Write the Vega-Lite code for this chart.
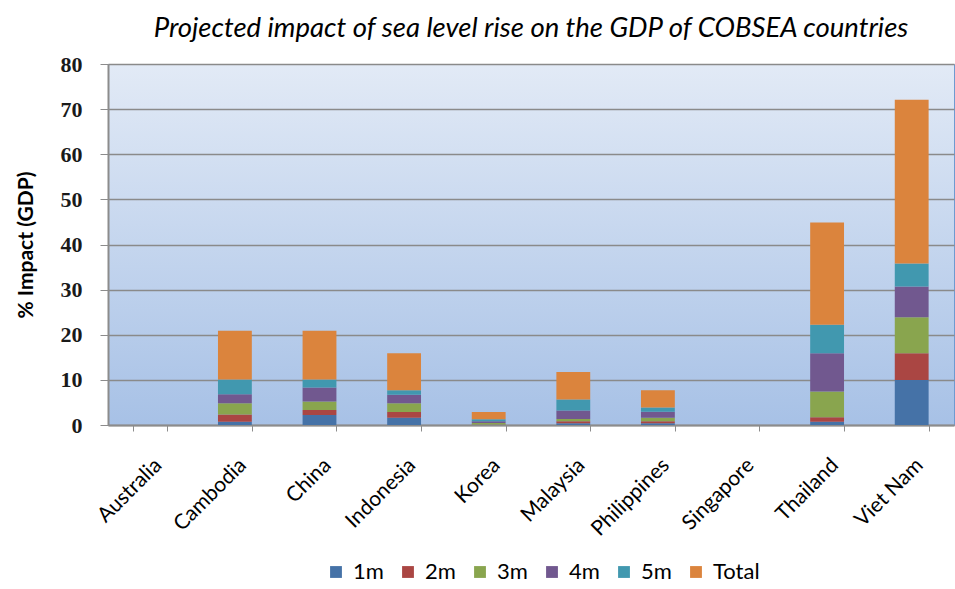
{
  "$schema": "https://vega.github.io/schema/vega-lite/v6.json",
  "autosize": {"type": "none"},
  "width": 846,
  "height": 361,
  "padding": {"left": 108, "top": 64, "right": 1, "bottom": 164},
  "background": "#ffffff",
  "title": {
    "text": "Projected impact of sea level rise on the GDP of COBSEA countries",
    "font": "Lato",
    "fontStyle": "italic",
    "fontWeight": "normal",
    "fontSize": 27.5,
    "color": "#000000",
    "anchor": "middle",
    "offset": 11
  },
  "data": {
    "values": [
      {"country": "Australia", "level": "1m", "value": 0},
      {"country": "Australia", "level": "2m", "value": 0},
      {"country": "Australia", "level": "3m", "value": 0},
      {"country": "Australia", "level": "4m", "value": 0},
      {"country": "Australia", "level": "5m", "value": 0},
      {"country": "Australia", "level": "Total", "value": 0},
      {"country": "Cambodia", "level": "1m", "value": 0.7},
      {"country": "Cambodia", "level": "2m", "value": 1.6},
      {"country": "Cambodia", "level": "3m", "value": 2.5},
      {"country": "Cambodia", "level": "4m", "value": 2.0},
      {"country": "Cambodia", "level": "5m", "value": 3.3},
      {"country": "Cambodia", "level": "Total", "value": 10.8},
      {"country": "China", "level": "1m", "value": 2.2},
      {"country": "China", "level": "2m", "value": 1.1},
      {"country": "China", "level": "3m", "value": 1.9},
      {"country": "China", "level": "4m", "value": 3.1},
      {"country": "China", "level": "5m", "value": 1.8},
      {"country": "China", "level": "Total", "value": 10.8},
      {"country": "Indonesia", "level": "1m", "value": 1.6},
      {"country": "Indonesia", "level": "2m", "value": 1.3},
      {"country": "Indonesia", "level": "3m", "value": 1.9},
      {"country": "Indonesia", "level": "4m", "value": 1.9},
      {"country": "Indonesia", "level": "5m", "value": 1.0},
      {"country": "Indonesia", "level": "Total", "value": 8.2},
      {"country": "Korea", "level": "1m", "value": 0.05},
      {"country": "Korea", "level": "2m", "value": 0.05},
      {"country": "Korea", "level": "3m", "value": 0.35},
      {"country": "Korea", "level": "4m", "value": 0.4},
      {"country": "Korea", "level": "5m", "value": 0.4},
      {"country": "Korea", "level": "Total", "value": 1.65},
      {"country": "Malaysia", "level": "1m", "value": 0.37},
      {"country": "Malaysia", "level": "2m", "value": 0.45},
      {"country": "Malaysia", "level": "3m", "value": 0.5},
      {"country": "Malaysia", "level": "4m", "value": 1.9},
      {"country": "Malaysia", "level": "5m", "value": 2.45},
      {"country": "Malaysia", "level": "Total", "value": 6.05},
      {"country": "Philippines", "level": "1m", "value": 0.37},
      {"country": "Philippines", "level": "2m", "value": 0.45},
      {"country": "Philippines", "level": "3m", "value": 0.8},
      {"country": "Philippines", "level": "4m", "value": 1.3},
      {"country": "Philippines", "level": "5m", "value": 0.95},
      {"country": "Philippines", "level": "Total", "value": 3.85},
      {"country": "Singapore", "level": "1m", "value": 0},
      {"country": "Singapore", "level": "2m", "value": 0},
      {"country": "Singapore", "level": "3m", "value": 0},
      {"country": "Singapore", "level": "4m", "value": 0},
      {"country": "Singapore", "level": "5m", "value": 0},
      {"country": "Singapore", "level": "Total", "value": 0},
      {"country": "Thailand", "level": "1m", "value": 0.7},
      {"country": "Thailand", "level": "2m", "value": 1.0},
      {"country": "Thailand", "level": "3m", "value": 5.7},
      {"country": "Thailand", "level": "4m", "value": 8.5},
      {"country": "Thailand", "level": "5m", "value": 6.3},
      {"country": "Thailand", "level": "Total", "value": 22.7},
      {"country": "Viet Nam", "level": "1m", "value": 10.0},
      {"country": "Viet Nam", "level": "2m", "value": 5.9},
      {"country": "Viet Nam", "level": "3m", "value": 8.0},
      {"country": "Viet Nam", "level": "4m", "value": 6.8},
      {"country": "Viet Nam", "level": "5m", "value": 5.1},
      {"country": "Viet Nam", "level": "Total", "value": 36.3}
    ]
  },
  "mark": {"type": "bar"},
  "encoding": {
    "x": {
      "field": "country",
      "type": "nominal",
      "sort": null,
      "scale": {"paddingInner": 0.6, "paddingOuter": 0.3},
      "axis": {
        "title": null,
        "labelAngle": -45,
        "labelFont": "Lato",
        "labelFontSize": 21,
        "labelColor": "#000000",
        "labelPadding": 23,
        "labelDx": -6,
        "tickBand": "extent",
        "tickColor": "#8c8c8c",
        "tickSize": 6,
        "domainColor": "#8c8c8c",
        "domainWidth": 2
      }
    },
    "y": {
      "field": "value",
      "type": "quantitative",
      "stack": "zero",
      "scale": {"domain": [0, 80]},
      "axis": {
        "title": "% Impact (GDP)",
        "titleFont": "Lato",
        "titleFontSize": 21,
        "titleFontWeight": "bold",
        "titleColor": "#000000",
        "titlePadding": 24,
        "values": [0, 10, 20, 30, 40, 50, 60, 70, 80],
        "labelFont": "Liberation Serif",
        "labelFontSize": 22,
        "labelFontWeight": "bold",
        "labelColor": "#1a1a1a",
        "labelPadding": 18,
        "tickColor": "#8c8c8c",
        "tickSize": 8,
        "domainColor": "#8c8c8c",
        "domainWidth": 2,
        "grid": true,
        "gridColor": "#8a8a8a",
        "gridWidth": 1.5
      }
    },
    "color": {
      "field": "level",
      "type": "nominal",
      "scale": {
        "domain": ["1m", "2m", "3m", "4m", "5m", "Total"],
        "range": ["#4572a7", "#aa4643", "#89a54e", "#71588f", "#4198af", "#db843d"]
      },
      "legend": {
        "title": null,
        "orient": "none",
        "legendX": 217,
        "legendY": 497,
        "direction": "horizontal",
        "symbolType": "square",
        "symbolSize": 140,
        "symbolStrokeWidth": 0,
        "labelFont": "Lato",
        "labelFontSize": 22,
        "labelColor": "#000000",
        "labelOffset": 6,
        "columnPadding": 13
      }
    },
    "order": {"field": "level", "sort": "ascending"}
  },
  "config": {
    "view": {
      "fill": {
        "gradient": "linear",
        "x1": 0, "y1": 0, "x2": 0, "y2": 1,
        "stops": [
          {"offset": 0, "color": "#e2eaf6"},
          {"offset": 1, "color": "#a7c1e6"}
        ]
      },
      "stroke": "#6f9ad0",
      "strokeWidth": 1
    }
  }
}
